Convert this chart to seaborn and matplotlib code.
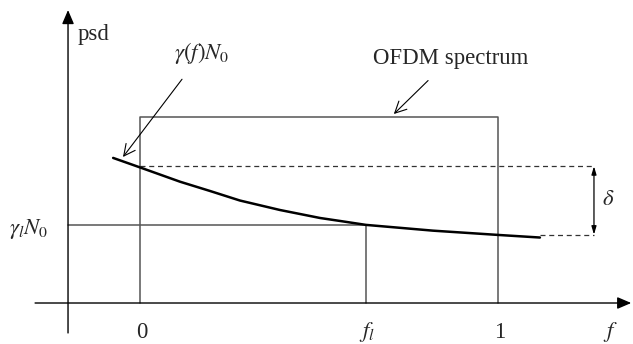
import matplotlib
matplotlib.use("Agg")
import matplotlib.pyplot as plt
import seaborn as sns
import pandas as pd

# ---- data (f in normalised frequency, psd in relative units) ----
band_edges = [0.0, 1.0]          # OFDM spectrum spans f = 0 .. 1
ofdm_level = 1.0                 # OFDM spectrum height
f_l = 0.631                      # frequency f_l
gamma_l_level = 0.417            # gamma_l N0
curve_f = [-0.075, 0.0, 0.112, 0.196, 0.279, 0.391, 0.503, 0.559, 0.631, 0.818, 1.0, 1.117]
curve_psd = [0.780, 0.729, 0.652, 0.602, 0.551, 0.500, 0.457, 0.441, 0.420, 0.389, 0.366, 0.352]
delta_top = 0.735
delta_bottom = 0.368
delta_x = 1.268
tick_pos = [0.0, f_l, 1.0]
tick_labels = ["0", r"$f_l$", "1"]

sns.set_theme(style="white")
plt.rcParams["font.family"] = ["Liberation Serif", "DejaVu Serif"]
plt.rcParams["mathtext.fontset"] = "stix"

fig = plt.figure(figsize=(6.33, 3.44), dpi=100)
ax = fig.add_axes([0, 0, 1, 1])
ax.set_xlim(-0.391, 1.377)
ax.set_ylim(-0.2204, 1.629)
ax.axis("off")

gray = "#555555"
fs = 16.4

# OFDM rectangle
rect = pd.DataFrame({"f": [band_edges[0], band_edges[0], band_edges[1], band_edges[1]],
                     "p": [0, ofdm_level, ofdm_level, 0]})
sns.lineplot(data=rect, x="f", y="p", sort=False, estimator=None, color=gray, lw=1.1, ax=ax)

# gamma_l horizontal and f_l vertical
y_axis_x = -0.201
gl = pd.DataFrame({"f": [y_axis_x, f_l, f_l], "p": [gamma_l_level, gamma_l_level, 0]})
sns.lineplot(data=gl, x="f", y="p", sort=False, estimator=None, color=gray, lw=1.1, ax=ax)

# dashed delta reference lines
dtop = pd.DataFrame({"f": [band_edges[0], delta_x], "p": [delta_top, delta_top]})
dbot = pd.DataFrame({"f": [curve_f[-1], delta_x], "p": [delta_bottom, delta_bottom]})
for d in (dtop, dbot):
    sns.lineplot(data=d, x="f", y="p", sort=False, estimator=None, color="#333333",
                 lw=0.9, ls=(0, (4, 3)), ax=ax)

# gamma(f) N0 curve
cdf = pd.DataFrame({"f": curve_f, "p": curve_psd})
sns.lineplot(data=cdf, x="f", y="p", sort=False, estimator=None, color="black", lw=1.8, ax=ax)

# axes arrows
ax.annotate("", xy=(1.372, 0), xytext=(-0.293, 0),
            arrowprops=dict(arrowstyle="-|>,head_length=0.7,head_width=0.3", color="black",
                            lw=1.0, shrinkA=0, shrinkB=0))
ax.annotate("", xy=(y_axis_x, 1.575), xytext=(y_axis_x, -0.161),
            arrowprops=dict(arrowstyle="-|>,head_length=0.7,head_width=0.3", color="black",
                            lw=1.0, shrinkA=0, shrinkB=0))

# delta double arrow
ax.annotate("", xy=(delta_x, delta_top), xytext=(delta_x, delta_bottom),
            arrowprops=dict(arrowstyle="<|-|>,head_length=0.4,head_width=0.12", color="black",
                            lw=0.9, shrinkA=0, shrinkB=0))
ax.text(1.307, 0.554, r"$\delta$", fontsize=fs, ha="center", va="center")

# labels with pointer arrows
ax.annotate(r"$\gamma(f)N_0$", xy=(-0.0475, 0.785), xytext=(0.173, 1.344),
            fontsize=fs, ha="center", va="center",
            arrowprops=dict(arrowstyle="->,head_length=0.5,head_width=0.25", color="black",
                            lw=0.8, shrinkA=9, shrinkB=0))
ax.annotate("OFDM spectrum", xy=(0.709, 1.016), xytext=(0.869, 1.317),
            fontsize=fs, ha="center", va="center",
            arrowprops=dict(arrowstyle="->,head_length=0.5,head_width=0.25", color="black",
                            lw=0.8, shrinkA=9, shrinkB=0))

ax.text(-0.1285, 1.441, "psd", fontsize=fs, ha="center", va="center")
ax.text(-0.310, 0.398, r"$\gamma_l N_0$", fontsize=fs, ha="center", va="center")

for pos, lab in zip(tick_pos, tick_labels):
    ax.text(pos + 0.004, -0.156, lab, fontsize=fs, ha="center", va="center")
ax.text(1.313, -0.156, r"$f$", fontsize=fs, ha="center", va="center")

fig.savefig("out.png", dpi=100)
